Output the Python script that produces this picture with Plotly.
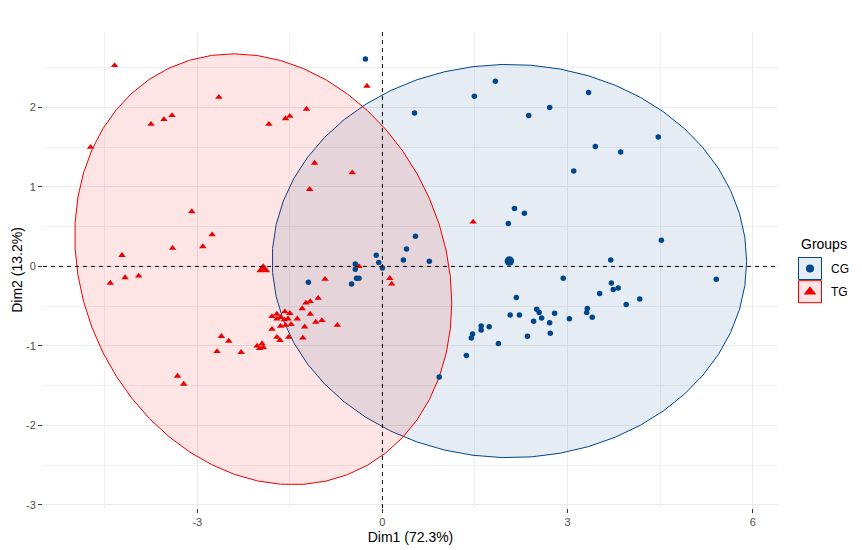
import numpy as np
import plotly.graph_objects as go

# ---- data (PCA individual coordinates) ----
cg_x = [-0.275, 1.83, 1.49, 0.52, 2.37, 2.71, 3.34, 4.47, 3.45, 3.86, 3.10, 2.14, 2.30, 2.04,
        4.52, 0.535, 0.39, 0.34, 0.76, -0.10, -0.06, 0.00, -0.44, -0.44, -0.42, -0.38, -0.50,
        -1.20, 2.93, 3.70, 2.17, 2.07, 2.22, 2.50, 2.54, 2.58, 2.45, 2.79, 2.71, 2.72, 3.03,
        2.35, 1.88, 1.73, 1.60, 1.60, 1.46, 1.44, 1.36, 3.31, 3.32, 3.40, 3.52, 3.71, 3.74,
        3.82, 3.95, 4.17, 0.92, 5.41]
cg_y = [2.61, 2.33, 2.14, 1.93, 1.90, 2.00, 2.19, 1.63, 1.51, 1.44, 1.20, 0.73, 0.67, 0.54,
        0.33, 0.38, 0.22, 0.08, 0.065, 0.14, 0.05, -0.02, 0.03, -0.035, -0.15, -0.15, -0.22,
        -0.20, -0.15, 0.08, -0.39, -0.61, -0.61, -0.54, -0.58, -0.65, -0.69, -0.59, -0.71, -0.84, -0.66,
        -0.88, -0.97, -0.76, -0.75, -0.80, -0.85, -0.90, -1.12, -0.58, -0.53, -0.64, -0.34, -0.21, -0.29,
        -0.27, -0.48, -0.41, -1.39, -0.16]

tg_x = [-4.34, -2.65, -3.75, -3.54, -3.41, -1.84, -1.57, -1.50, -1.23, -4.73, -0.25, -1.10,
        -0.49, -1.18, -3.09, -2.76, 1.47, -4.22, -4.41, -4.17, -3.95, -3.40, -2.91, -3.32, -3.22,
        -0.38, -0.93, 0.12, 0.15, -1.04, -1.17, -1.24, -1.30, -1.58, -1.50, -1.71, -1.79, -1.65,
        -1.71, -1.59, -1.53, -1.38, -1.17, -0.98, -1.08, -1.48, -1.57, -1.65, -1.26, -0.73, -1.79,
        -1.71, -1.66, -1.52, -1.29, -2.61, -2.49, -2.68, -2.29, -2.03, -1.95, -1.99, -1.93]
tg_y = [2.53, 2.13, 1.79, 1.85, 1.90, 1.79, 1.86, 1.89, 1.98, 1.50, 2.27, 1.30,
        1.18, 0.97, 0.69, 0.40, 0.56, 0.14, -0.21, -0.14, -0.12, 0.23, 0.25, -1.38, -1.48,
        0.00, -0.16, -0.15, -0.22, -0.40, -0.44, -0.46, -0.53, -0.57, -0.59, -0.60, -0.63, -0.64,
        -0.66, -0.67, -0.66, -0.66, -0.60, -0.68, -0.70, -0.73, -0.74, -0.75, -0.76, -0.74, -0.79,
        -0.89, -0.93, -0.89, -0.90, -0.88, -0.94, -1.07, -1.08, -1.00, -0.97, -1.03, -1.02]

groups = ["CG", "TG"]
colors = {"CG": "#00468B", "TG": "#ED0000"}
fills = {"CG": "rgba(0,70,139,0.1)", "TG": "rgba(237,0,0,0.1)"}
symbols = {"CG": "circle", "TG": "triangle-up"}
data = {"CG": (np.array(cg_x), np.array(cg_y)), "TG": (np.array(tg_x), np.array(tg_y))}

x_ticks = [-3, 0, 3, 6]
y_ticks = [-3, -2, -1, 0, 1, 2]
x_title = "Dim1 (72.3%)"
y_title = "Dim2 (13.2%)"


def norm_ellipse(x, y, level=0.95, segments=51):
    # same construction as ggplot2::stat_ellipse(type = "norm")
    pts = np.column_stack([x, y])
    n = len(pts)
    center = pts.mean(axis=0)
    cov = np.cov(pts, rowvar=False)
    R = np.linalg.cholesky(cov).T
    d = n - 1
    qf = d / 2.0 * ((1 - level) ** (-2.0 / d) - 1)
    radius = np.sqrt(2 * qf)
    ang = np.arange(segments + 1) * 2 * np.pi / segments
    circ = np.column_stack([np.cos(ang), np.sin(ang)])
    ell = center + radius * (circ @ R)
    return ell[:, 0], ell[:, 1]


fig = go.Figure()

for g in groups:
    ex, ey = norm_ellipse(*data[g])
    fig.add_trace(go.Scatter(x=ex, y=ey, mode="lines", fill="toself",
                             fillcolor=fills[g], line=dict(color=colors[g], width=1),
                             hoverinfo="skip", showlegend=False))

for g in groups:
    gx, gy = data[g]
    fig.add_trace(go.Scatter(x=gx, y=gy, mode="markers", showlegend=False,
                             marker=dict(symbol=symbols[g], color=colors[g],
                                         size=5.5 if g == "CG" else 6.5, line=dict(width=0))))
    # group mean point
    fig.add_trace(go.Scatter(x=[gx.mean()], y=[gy.mean()], mode="markers", showlegend=False,
                             marker=dict(symbol=symbols[g], color=colors[g],
                                         size=9.5 if g == "CG" else 12, line=dict(width=0))))

# ---- custom legend on an auxiliary pixel-like axis ----
key_y = {"CG": 268.5, "TG": 291.7}
for g in groups:
    fig.add_shape(type="rect", xref="x2", yref="y2", x0=798.5, x1=821.5,
                  y0=key_y[g] - 11, y1=key_y[g] + 11,
                  line=dict(color=colors[g], width=1), fillcolor=fills[g], layer="below")
    fig.add_trace(go.Scatter(x=[810], y=[key_y[g]], xaxis="x2", yaxis="y2", mode="markers",
                             showlegend=False, hoverinfo="skip",
                             marker=dict(symbol=symbols[g], color=colors[g],
                                         size=8 if g == "CG" else 11, line=dict(width=0))))
    fig.add_annotation(x=829, y=key_y[g], xref="x2", yref="y2", text=g, showarrow=False,
                       xanchor="left", yanchor="middle",
                       font=dict(family="Liberation Sans, Arial", size=12, color="#000000"))
fig.add_annotation(x=798.5, y=244, xref="x2", yref="y2", text="Groups", showarrow=False,
                   xanchor="left", yanchor="middle",
                   font=dict(family="Liberation Sans, Arial", size=14, color="#000000"))

# dashed reference lines
fig.add_shape(type="line", xref="x", yref="y domain", x0=0, x1=0, y0=0, y1=1,
              line=dict(color="black", width=1, dash="4px,4px"))
fig.add_shape(type="line", xref="x domain", yref="y", x0=0, x1=1, y0=0, y1=0,
              line=dict(color="black", width=1, dash="4px,4px"))

L, T, B = 43, 32, 42
W, H = 862, 550
pw = W - L
main_right = (778 - L) / pw
ph = H - T - B

fig.update_layout(
    width=W, height=H,
    margin=dict(l=L, r=0, t=T, b=B, pad=0),
    paper_bgcolor="white", plot_bgcolor="white",
    font=dict(family="Liberation Sans, Arial", size=11, color="#4D4D4D"),
    showlegend=False,
    xaxis=dict(domain=[0, main_right], range=[-5.50, 6.41], tickvals=x_ticks,
               ticktext=[str(v) for v in x_ticks],
               showgrid=True, gridcolor="#EBEBEB", gridwidth=1, zeroline=False,
               minor=dict(tickvals=[-4.5, -1.5, 1.5, 4.5], showgrid=True, gridcolor="#F1F1F1", gridwidth=1),
               ticks="outside", ticklen=4, tickcolor="#333333", tickwidth=1,
               tickfont=dict(size=11, color="#4D4D4D"), showline=False,
               title=dict(text=x_title, font=dict(size=14, color="#000000"), standoff=4)),
    yaxis=dict(domain=[0, 1], range=[-3.04, 2.95], tickvals=y_ticks,
               ticktext=[str(v) for v in y_ticks],
               showgrid=True, gridcolor="#EBEBEB", gridwidth=1, zeroline=False,
               minor=dict(tickvals=[-2.5, -1.5, -0.5, 0.5, 1.5, 2.5], showgrid=True, gridcolor="#F1F1F1", gridwidth=1),
               ticks="outside", ticklen=4, tickcolor="#333333", tickwidth=1,
               tickfont=dict(size=11, color="#4D4D4D"), showline=False,
               title=dict(text=y_title, font=dict(size=14, color="#000000"), standoff=0)),
    xaxis2=dict(domain=[(790 - L) / pw, 1.0], range=[790, 862], visible=False,
                fixedrange=True, anchor="y2"),
    yaxis2=dict(domain=[(H - B - 310) / ph, (H - B - 230) / ph], range=[310, 230],
                visible=False, fixedrange=True, anchor="x2"),
)

fig.write_html("out.html", config={"displayModeBar": False},
               post_script="document.body.style.margin='0px';document.body.style.overflow='hidden';")
